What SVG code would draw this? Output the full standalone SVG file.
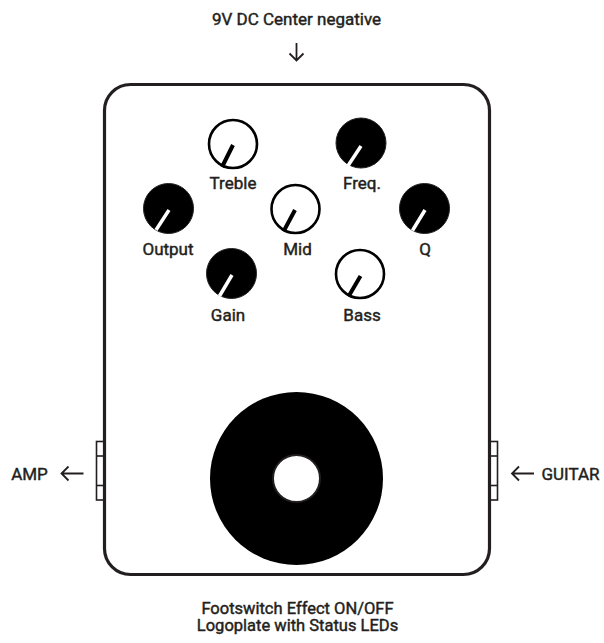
<svg xmlns="http://www.w3.org/2000/svg" width="604" height="643" viewBox="0 0 604 643">
<style>
.t{font-family:Roboto,"Liberation Sans",sans-serif;font-weight:400;font-size:17px;fill:#231f20;stroke:#231f20;stroke-width:0.45;text-anchor:middle}
.b{font-size:16.5px}
.enc{fill:#fff;stroke:#231f20;stroke-width:3.2}
.jack{fill:#fff;stroke:#231f20;stroke-width:1.6}
.kw{fill:#fff;stroke:#000;stroke-width:2.6}
.kb{fill:#000;stroke:#231f20;stroke-width:1}
.pb{stroke:#000;stroke-width:4}
.pw{stroke:#fff;stroke-width:3.5}
.ar{fill:none;stroke:#231f20;stroke-width:1.8}
</style>
<rect width="604" height="643" fill="#fff"/>
<g id="jack-left"><rect class="jack" x="96.5" y="441.5" width="8" height="58.5"/><line class="jack" x1="96.5" y1="456" x2="104.5" y2="456"/><line class="jack" x1="96.5" y1="485.5" x2="104.5" y2="485.5"/></g>
<g id="jack-right"><rect class="jack" x="489.5" y="441.5" width="8" height="58.5"/><line class="jack" x1="489.5" y1="456" x2="497.5" y2="456"/><line class="jack" x1="489.5" y1="485.5" x2="497.5" y2="485.5"/></g>
<g id="enclosure"><rect class="enc" x="104.5" y="84.5" width="385" height="490" rx="26"/></g>
<g id="knob-treble"><circle class="kw" cx="233" cy="144" r="24"/><line class="pb" x1="233" y1="145" x2="222" y2="167"/><text class="t" x="233" y="189">Treble</text></g>
<g id="knob-freq"><circle class="kb" cx="361" cy="143" r="25"/><line class="pw" x1="361" y1="146" x2="347.5" y2="166.5"/><text class="t" x="362" y="189">Freq.</text></g>
<g id="knob-output"><circle class="kb" cx="168.5" cy="208.5" r="25"/><line class="pw" x1="169" y1="210" x2="156" y2="230"/><text class="t" x="168" y="255">Output</text></g>
<g id="knob-mid"><circle class="kw" cx="295.5" cy="209" r="24"/><line class="pb" x1="295" y1="210" x2="283.5" y2="231.5"/><text class="t" x="297.5" y="255">Mid</text></g>
<g id="knob-q"><circle class="kb" cx="424.5" cy="208.5" r="25"/><line class="pw" x1="425" y1="210" x2="412.5" y2="230.5"/><text class="t" x="425" y="255">Q</text></g>
<g id="knob-gain"><circle class="kb" cx="231.5" cy="273.5" r="25"/><line class="pw" x1="232" y1="275" x2="219.5" y2="296"/><text class="t" x="228" y="321">Gain</text></g>
<g id="knob-bass"><circle class="kw" cx="360" cy="274" r="24"/><line class="pb" x1="360.5" y1="276" x2="348.5" y2="296.5"/><text class="t" x="362" y="321">Bass</text></g>
<g id="footswitch"><circle cx="296.5" cy="478.5" r="86.5" fill="#000"/><circle cx="296.5" cy="478.5" r="23.5" fill="#fff" stroke="#231f20" stroke-width="2"/></g>
<g id="labels">
<text class="t" x="296.5" y="25">9V DC Center negative</text>
<text class="t" x="29.5" y="480">AMP</text>
<text class="t" x="570.5" y="480">GUITAR</text>
<text class="t b" x="297.5" y="613.5">Footswitch Effect ON/OFF</text>
<text class="t b" x="297.5" y="631">Logoplate with Status LEDs</text>
</g>
<g id="connectors">
<path class="ar" d="M296.5 43V60.5M289.5 53.5L296.5 60.5L303.5 53.5"/>
<path class="ar" d="M83.5 473.5H61.5M68.5 466.5L61.5 473.5L68.5 480.5"/>
<path class="ar" d="M534 473.5H512M519 466.5L512 473.5L519 480.5"/>
</g>
</svg>
